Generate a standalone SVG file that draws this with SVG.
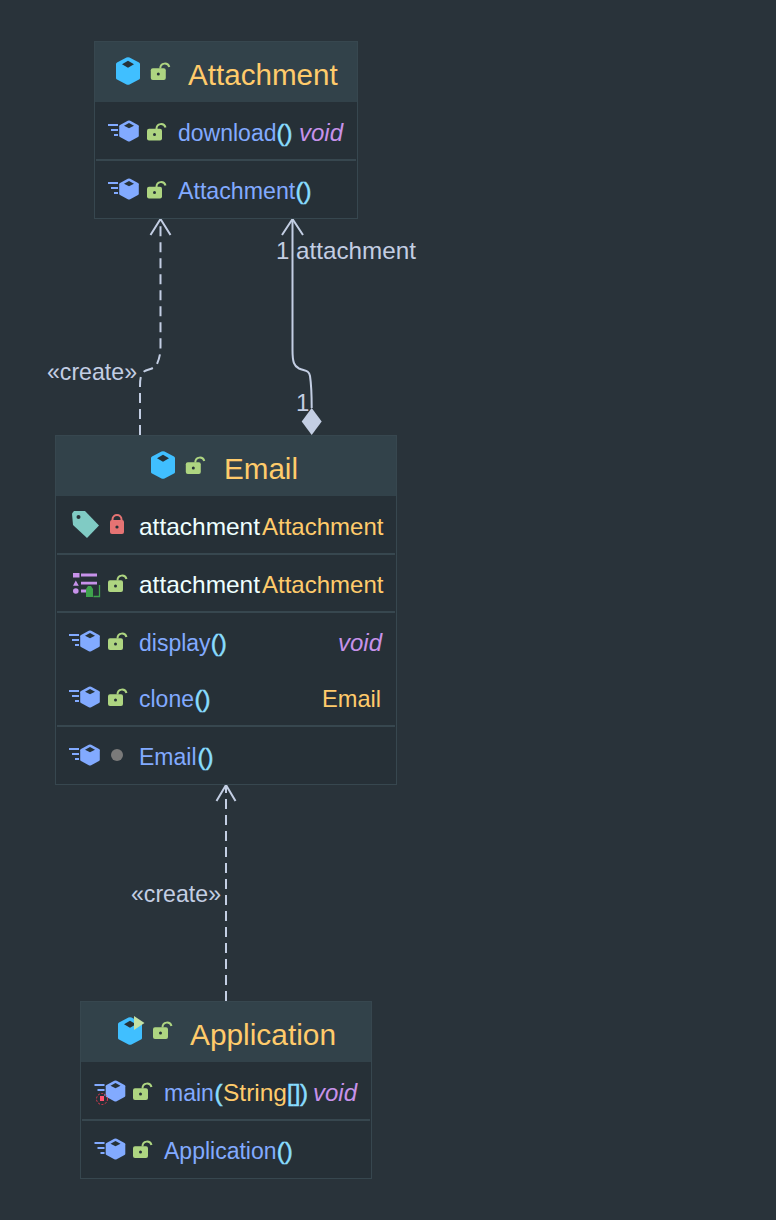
<svg xmlns="http://www.w3.org/2000/svg" width="776" height="1220" viewBox="0 0 776 1220">
<style>
text{font-family:"Liberation Sans",Arial,sans-serif;font-size:24px;white-space:pre}
.box{fill:#263037;stroke:#37474F;stroke-width:1}
.hdr{fill:#32424A}
.sep{stroke:#37474F;stroke-width:2;fill:none}
text.t{font-size:29.6px;fill:#FFCB6B}
text.m{fill:#82AAFF;font-size:23px}
.p{fill:#89DDFF;stroke:#89DDFF;stroke-width:0.5}
.v{fill:#C792EA;font-style:italic}
.y{fill:#FFCB6B}
.w{fill:#EEFFFF}
.l{fill:#C3CEE3}
.c{fill:none;stroke:#C3CEE3;stroke-width:2}
.d{stroke-dasharray:10 6}
</style>
<defs>
<g id="cls"><path d="M-1.500-13.500Q0-14.200 1.500-13.500L11-8.500Q12-8 12-7V7Q12 8 11 8.500L1.500 13.500Q0 14.200-1.500 13.500L-11 8.500Q-12 8-12 7V-7Q-12-8-11-8.500Z" fill="#40BFFF"/><path d="M0-10.200L6-6.700L0-3.200L-6-6.700Z" fill="#263238"/></g>
<g id="mth"><path d="M-1.200-10.200Q0-10.800 1.200-10.200L9-6Q9.800-5.500 9.800-4.700V4.700Q9.800 5.500 9 6L1.200 10.200Q0 10.800-1.200 10.200L-9 6Q-9.800 5.500-9.800 4.700V-4.700Q-9.800-5.500-9-6Z" fill="#82AAFF"/><path d="M0-8L5-5.200L0-2.800L-5-5.200Z" fill="#263238"/><path d="M-21-6H-11M-18-1H-11M-15 4H-11" stroke="#82AAFF" stroke-width="2" fill="none"/></g>
<g id="lck"><rect x="-7.500" y="-5.700" width="15" height="11.700" rx="2" fill="#AED581"/><circle cx="0" cy="0" r="1.500" fill="#263238"/><path d="M2-5.500C2-11.500 9.500-12 11-7" stroke="#AED581" stroke-width="2" fill="none"/></g>
</defs>
<rect width="776" height="1220" fill="#29333A"/>

<g id="connectors">
<path class="c d" d="M140 435V386C140 378 141 374 144 371.500C148 369 155 369 157 364C159.500 358 160.500 354 160.500 346V220"/>
<path class="c" d="M160.500 219L150.500 235M160.500 219L170.500 235"/>
<path class="c d" d="M226 1001V786"/>
<path class="c" d="M226 785L216.500 801M226 785L235.500 801"/>
<path class="c" d="M292.500 220V350C292.500 362 294 366 299 368.500C305 371 309 370 310 376C311.500 386 311.700 395 311.700 408"/>
<path class="c" d="M292.500 219L282 235M292.500 219L303 235"/>
<path d="M311.700 408L321.700 421.500L311.700 435L301.700 421.500Z" fill="#C3CEE3"/>
<text class="l" x="276" y="259">1</text>
<text class="l" x="296" y="259" textLength="120" lengthAdjust="spacingAndGlyphs">attachment</text>
<text class="l" x="296" y="411">1</text>
<text class="l" x="47" y="380" textLength="90" lengthAdjust="spacingAndGlyphs">«create»</text>
<text class="l" x="131" y="902" textLength="90" lengthAdjust="spacingAndGlyphs">«create»</text>
</g>

<g id="node-attachment">
<rect class="box" x="94.500" y="41.500" width="263" height="177"/>
<rect class="hdr" x="95" y="42" width="262" height="60"/>
<path class="sep" d="M96 160H356"/>
<use href="#cls" x="128" y="71"/>
<use href="#lck" x="158.300" y="74"/>
<text class="t" x="188" y="85">Attachment</text>
<use href="#mth" x="129" y="131"/>
<use href="#lck" x="154.500" y="134.500"/>
<text class="m" x="178" y="141">download</text><text class="p" x="276.500" y="141">()</text><text class="v" x="299" y="141">void</text>
<use href="#mth" x="129" y="189"/>
<use href="#lck" x="154.500" y="192.500"/>
<text class="m" x="178" y="199" style="font-size:23.200px">Attachment</text><text class="p" x="295.500" y="199">()</text>
</g>

<g id="node-email">
<rect class="box" x="55.500" y="435.500" width="341" height="349"/>
<rect class="hdr" x="56" y="436" width="340" height="60"/>
<path class="sep" d="M57 554H395M57 612H395M57 726H395"/>
<use href="#cls" x="163" y="465"/>
<use href="#lck" x="193.300" y="468"/>
<text class="t" x="224" y="479">Email</text>
<path d="M72 513.500L74 511H85L99 525.500L87 538L73 525Z" fill="#80CBC4"/><circle cx="78.500" cy="517" r="2" fill="#263238"/>
<path d="M112.500 521V519.500C112.500 513.500 121.500 513.500 121.500 519.500V521" stroke="#E57373" stroke-width="2" fill="none"/>
<rect x="110" y="520" width="14" height="14" rx="2" fill="#E57373"/><circle cx="117" cy="527" r="1.600" fill="#263238"/>
<text class="w" x="139" y="535" textLength="121" lengthAdjust="spacingAndGlyphs">attachment</text><text class="y" x="262" y="535">Attachment</text>
<path d="M73 573H79.500V577.500H73ZM81 573.500H97V576.500H81ZM75.800 580.500L78.800 585.800H73ZM81 581.800H97V584.500H81ZM81 589.500H86V592.500H81Z" fill="#C792EA"/><circle cx="75.800" cy="591" r="2.800" fill="#C792EA"/>
<path d="M86 597V589L88 586H91L93 589V597Z" fill="#3FA34D"/><path d="M93.500 596.500H99.500V585" stroke="#3FA34D" stroke-width="1.300" fill="none"/>
<use href="#lck" x="115.500" y="586"/>
<text class="w" x="139" y="593" textLength="121" lengthAdjust="spacingAndGlyphs">attachment</text><text class="y" x="262" y="593">Attachment</text>
<use href="#mth" x="90" y="641"/>
<use href="#lck" x="115.500" y="644"/>
<text class="m" x="139" y="651">display</text><text class="p" x="210.800" y="651">()</text><text class="v" x="338" y="651">void</text>
<use href="#mth" x="90" y="697"/>
<use href="#lck" x="115.500" y="700"/>
<text class="m" x="139" y="707">clone</text><text class="p" x="194.500" y="707">()</text><text class="y" x="322" y="707" textLength="59" lengthAdjust="spacingAndGlyphs">Email</text>
<use href="#mth" x="90" y="755"/>
<circle cx="117" cy="755" r="6" fill="#7A7A7A"/>
<text class="m" x="139" y="765">Email</text><text class="p" x="197.500" y="765">()</text>
</g>

<g id="node-application">
<rect class="box" x="80.500" y="1001.500" width="291" height="177"/>
<rect class="hdr" x="81" y="1002" width="290" height="60"/>
<path class="sep" d="M82 1120H370"/>
<use href="#cls" x="130" y="1031"/>
<path d="M134 1016L144.500 1023L134 1030Z" fill="#C5E1A5"/>
<use href="#lck" x="160.500" y="1033"/>
<text class="t" x="190" y="1045" textLength="146" lengthAdjust="spacingAndGlyphs">Application</text>
<use href="#mth" x="115.500" y="1091"/>
<rect x="94" y="1092.500" width="10" height="10" fill="#263037"/>
<circle cx="102" cy="1099" r="5.500" fill="none" stroke="#E53950" stroke-width="1" stroke-dasharray="2 1.500"/>
<rect x="100" y="1096" width="4" height="5" fill="#FF5370"/>
<use href="#lck" x="140.500" y="1094"/>
<text class="m" x="164" y="1101">main</text><text class="p" x="214.500" y="1101">(</text><text class="y" x="223" y="1101" textLength="64" lengthAdjust="spacingAndGlyphs">String</text><text class="p" x="287" y="1101">[]</text><text class="p" x="300" y="1101">)</text><text class="v" x="313" y="1101">void</text>
<use href="#mth" x="115.500" y="1149"/>
<use href="#lck" x="140.500" y="1152"/>
<text class="m" x="164" y="1159">Application</text><text class="p" x="276.800" y="1159">()</text>
</g>
</svg>
